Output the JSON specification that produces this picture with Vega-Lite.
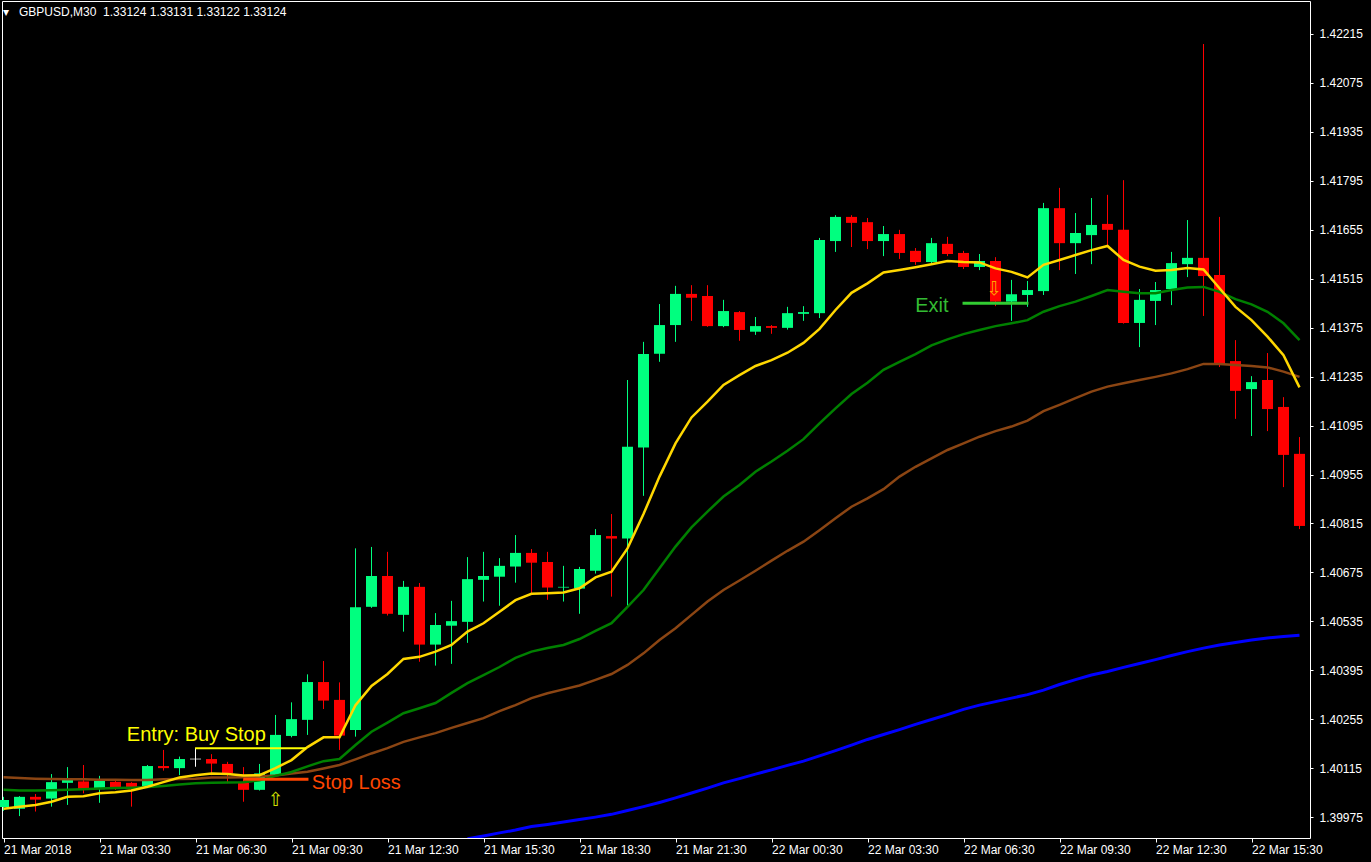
{
  "$schema": "https://vega.github.io/schema/vega-lite/v6.json",
  "autosize": "none",
  "width": 1308,
  "height": 837,
  "padding": {"left": 2, "top": 1, "right": 61, "bottom": 24},
  "background": "#000000",
  "title": {
    "text": "▾\u00a0\u00a0\u00a0GBPUSD,M30\u00a0\u00a01.33124 1.33131 1.33122 1.33124",
    "anchor": "start",
    "orient": "top",
    "offset": -18,
    "dx": 5,
    "font": "Liberation Sans",
    "fontSize": 12,
    "fontWeight": "normal",
    "color": "#FFFFFF"
  },
  "config": {
    "view": {"stroke": "#FFFFFF", "strokeWidth": 1, "fill": "#000000"},
    "axis": {
      "grid": false,
      "domain": false,
      "tickColor": "#FFFFFF",
      "tickWidth": 1,
      "labelColor": "#FFFFFF",
      "labelFont": "Liberation Sans",
      "labelFontSize": 12,
      "title": null
    }
  },
  "datasets": {
    "bars": [
      {"i":0,"open":1.40005,"high":1.40034,"low":1.39994,"close":1.40025,"fast":1.40000,"mid":1.40054,"slow":1.40090},
      {"i":1,"open":1.40000,"high":1.40036,"low":1.39979,"close":1.40034,"fast":1.40006,"mid":1.40052,"slow":1.40088},
      {"i":2,"open":1.40034,"high":1.40042,"low":1.39992,"close":1.40026,"fast":1.40011,"mid":1.40052,"slow":1.40086},
      {"i":3,"open":1.40029,"high":1.40099,"low":1.40006,"close":1.40076,"fast":1.40020,"mid":1.40053,"slow":1.40085},
      {"i":4,"open":1.40074,"high":1.40119,"low":1.40011,"close":1.40084,"fast":1.40034,"mid":1.40054,"slow":1.40084},
      {"i":5,"open":1.40078,"high":1.40125,"low":1.40044,"close":1.40056,"fast":1.40036,"mid":1.40056,"slow":1.40084},
      {"i":6,"open":1.40056,"high":1.40094,"low":1.40017,"close":1.40080,"fast":1.40044,"mid":1.40058,"slow":1.40083},
      {"i":7,"open":1.40077,"high":1.40082,"low":1.40054,"close":1.40058,"fast":1.40047,"mid":1.40059,"slow":1.40083},
      {"i":8,"open":1.40074,"high":1.40076,"low":1.40006,"close":1.40062,"fast":1.40052,"mid":1.40060,"slow":1.40082},
      {"i":9,"open":1.40063,"high":1.40125,"low":1.40059,"close":1.40122,"fast":1.40063,"mid":1.40062,"slow":1.40082},
      {"i":10,"open":1.40122,"high":1.40168,"low":1.40109,"close":1.40116,"fast":1.40076,"mid":1.40065,"slow":1.40084},
      {"i":11,"open":1.40116,"high":1.40149,"low":1.40096,"close":1.40142,"fast":1.40089,"mid":1.40069,"slow":1.40085},
      {"i":12,"open":1.40142,"high":1.40174,"low":1.40120,"close":1.40142,"fast":1.40096,"mid":1.40073,"slow":1.40086},
      {"i":13,"open":1.40142,"high":1.40156,"low":1.40096,"close":1.40129,"fast":1.40101,"mid":1.40074,"slow":1.40089},
      {"i":14,"open":1.40128,"high":1.40134,"low":1.40073,"close":1.40101,"fast":1.40099,"mid":1.40075,"slow":1.40089},
      {"i":15,"open":1.40074,"high":1.40119,"low":1.40020,"close":1.40054,"fast":1.40095,"mid":1.40076,"slow":1.40090},
      {"i":16,"open":1.40054,"high":1.40128,"low":1.40052,"close":1.40101,"fast":1.40096,"mid":1.40081,"slow":1.40092},
      {"i":17,"open":1.40096,"high":1.40268,"low":1.40094,"close":1.40211,"fast":1.40116,"mid":1.40094,"slow":1.40095},
      {"i":18,"open":1.40208,"high":1.40304,"low":1.40204,"close":1.40256,"fast":1.40139,"mid":1.40105,"slow":1.40101},
      {"i":19,"open":1.40254,"high":1.40384,"low":1.40211,"close":1.40362,"fast":1.40176,"mid":1.40121,"slow":1.40106},
      {"i":20,"open":1.40362,"high":1.40422,"low":1.40285,"close":1.40309,"fast":1.40204,"mid":1.40136,"slow":1.40115},
      {"i":21,"open":1.40311,"high":1.40361,"low":1.40168,"close":1.40209,"fast":1.40204,"mid":1.40142,"slow":1.40125},
      {"i":22,"open":1.40225,"high":1.40744,"low":1.40206,"close":1.40576,"fast":1.40296,"mid":1.40182,"slow":1.40141},
      {"i":23,"open":1.40577,"high":1.40748,"low":1.40574,"close":1.40665,"fast":1.40351,"mid":1.40220,"slow":1.40158},
      {"i":24,"open":1.40665,"high":1.40734,"low":1.40552,"close":1.40557,"fast":1.40385,"mid":1.40246,"slow":1.40173},
      {"i":25,"open":1.40554,"high":1.40651,"low":1.40506,"close":1.40634,"fast":1.40428,"mid":1.40273,"slow":1.40191},
      {"i":26,"open":1.40634,"high":1.40645,"low":1.40420,"close":1.40469,"fast":1.40434,"mid":1.40287,"slow":1.40204},
      {"i":27,"open":1.40469,"high":1.40559,"low":1.40409,"close":1.40525,"fast":1.40449,"mid":1.40302,"slow":1.40216},
      {"i":28,"open":1.40523,"high":1.40594,"low":1.40414,"close":1.40536,"fast":1.40468,"mid":1.40331,"slow":1.40231},
      {"i":29,"open":1.40534,"high":1.40719,"low":1.40474,"close":1.40656,"fast":1.40506,"mid":1.40359,"slow":1.40245,"long":1.39914},
      {"i":30,"open":1.40654,"high":1.40734,"low":1.40592,"close":1.40665,"fast":1.40530,"mid":1.40382,"slow":1.40259,"long":1.39922},
      {"i":31,"open":1.40663,"high":1.40716,"low":1.40580,"close":1.40694,"fast":1.40563,"mid":1.40405,"slow":1.40279,"long":1.39931},
      {"i":32,"open":1.40692,"high":1.40782,"low":1.40646,"close":1.40731,"fast":1.40596,"mid":1.40431,"slow":1.40296,"long":1.39939},
      {"i":33,"open":1.40731,"high":1.40742,"low":1.40614,"close":1.40703,"fast":1.40614,"mid":1.40449,"slow":1.40316,"long":1.39949},
      {"i":34,"open":1.40705,"high":1.40734,"low":1.40597,"close":1.40632,"fast":1.40616,"mid":1.40459,"slow":1.40330,"long":1.39955},
      {"i":35,"open":1.40632,"high":1.40694,"low":1.40592,"close":1.40634,"fast":1.40618,"mid":1.40468,"slow":1.40341,"long":1.39962},
      {"i":36,"open":1.40629,"high":1.40691,"low":1.40557,"close":1.40685,"fast":1.40630,"mid":1.40485,"slow":1.40352,"long":1.39969},
      {"i":37,"open":1.40680,"high":1.40799,"low":1.40672,"close":1.40782,"fast":1.40661,"mid":1.40508,"slow":1.40368,"long":1.39976},
      {"i":38,"open":1.40779,"high":1.40842,"low":1.40606,"close":1.40772,"fast":1.40677,"mid":1.40530,"slow":1.40385,"long":1.39984},
      {"i":39,"open":1.40772,"high":1.41225,"low":1.40577,"close":1.41034,"fast":1.40744,"mid":1.40577,"slow":1.40411,"long":1.39995},
      {"i":40,"open":1.41032,"high":1.41334,"low":1.40894,"close":1.41299,"fast":1.40842,"mid":1.40625,"slow":1.40444,"long":1.40006},
      {"i":41,"open":1.41300,"high":1.41442,"low":1.41277,"close":1.41382,"fast":1.40949,"mid":1.40687,"slow":1.40482,"long":1.40018},
      {"i":42,"open":1.41382,"high":1.41494,"low":1.41334,"close":1.41471,"fast":1.41044,"mid":1.40749,"slow":1.40516,"long":1.40031},
      {"i":43,"open":1.41471,"high":1.41496,"low":1.41394,"close":1.41460,"fast":1.41118,"mid":1.40804,"slow":1.40554,"long":1.40045},
      {"i":44,"open":1.41465,"high":1.41496,"low":1.41377,"close":1.41379,"fast":1.41163,"mid":1.40849,"slow":1.40592,"long":1.40059},
      {"i":45,"open":1.41379,"high":1.41454,"low":1.41376,"close":1.41422,"fast":1.41211,"mid":1.40892,"slow":1.40625,"long":1.40074},
      {"i":46,"open":1.41419,"high":1.41422,"low":1.41337,"close":1.41368,"fast":1.41239,"mid":1.40925,"slow":1.40652,"long":1.40086},
      {"i":47,"open":1.41363,"high":1.41405,"low":1.41354,"close":1.41379,"fast":1.41265,"mid":1.40963,"slow":1.40680,"long":1.40099},
      {"i":48,"open":1.41379,"high":1.41382,"low":1.41357,"close":1.41374,"fast":1.41282,"mid":1.40992,"slow":1.40709,"long":1.40111},
      {"i":49,"open":1.41374,"high":1.41434,"low":1.41369,"close":1.41416,"fast":1.41303,"mid":1.41023,"slow":1.40737,"long":1.40124},
      {"i":50,"open":1.41414,"high":1.41436,"low":1.41394,"close":1.41419,"fast":1.41331,"mid":1.41056,"slow":1.40763,"long":1.40136},
      {"i":51,"open":1.41416,"high":1.41631,"low":1.41402,"close":1.41625,"fast":1.41371,"mid":1.41101,"slow":1.40796,"long":1.40151},
      {"i":52,"open":1.41622,"high":1.41696,"low":1.41591,"close":1.41691,"fast":1.41425,"mid":1.41144,"slow":1.40830,"long":1.40166},
      {"i":53,"open":1.41691,"high":1.41696,"low":1.41605,"close":1.41674,"fast":1.41474,"mid":1.41185,"slow":1.40863,"long":1.40182},
      {"i":54,"open":1.41676,"high":1.41688,"low":1.41599,"close":1.41622,"fast":1.41501,"mid":1.41217,"slow":1.40887,"long":1.40198},
      {"i":55,"open":1.41622,"high":1.41665,"low":1.41579,"close":1.41642,"fast":1.41532,"mid":1.41254,"slow":1.40913,"long":1.40212},
      {"i":56,"open":1.41642,"high":1.41654,"low":1.41571,"close":1.41588,"fast":1.41539,"mid":1.41277,"slow":1.40949,"long":1.40226},
      {"i":57,"open":1.41594,"high":1.41602,"low":1.41554,"close":1.41562,"fast":1.41547,"mid":1.41299,"slow":1.40977,"long":1.40241},
      {"i":58,"open":1.41562,"high":1.41631,"low":1.41554,"close":1.41616,"fast":1.41556,"mid":1.41324,"slow":1.41001,"long":1.40255},
      {"i":59,"open":1.41614,"high":1.41634,"low":1.41579,"close":1.41585,"fast":1.41565,"mid":1.41341,"slow":1.41025,"long":1.40269},
      {"i":60,"open":1.41588,"high":1.41594,"low":1.41542,"close":1.41548,"fast":1.41562,"mid":1.41356,"slow":1.41044,"long":1.40284},
      {"i":61,"open":1.41548,"high":1.41585,"low":1.41539,"close":1.41565,"fast":1.41561,"mid":1.41368,"slow":1.41063,"long":1.40296},
      {"i":62,"open":1.41565,"high":1.41576,"low":1.41436,"close":1.41449,"fast":1.41544,"mid":1.41379,"slow":1.41079,"long":1.40306},
      {"i":63,"open":1.41449,"high":1.41511,"low":1.41394,"close":1.41470,"fast":1.41534,"mid":1.41387,"slow":1.41092,"long":1.40316},
      {"i":64,"open":1.41468,"high":1.41508,"low":1.41434,"close":1.41482,"fast":1.41518,"mid":1.41396,"slow":1.41109,"long":1.40326},
      {"i":65,"open":1.41479,"high":1.41731,"low":1.41468,"close":1.41716,"fast":1.41554,"mid":1.41420,"slow":1.41136,"long":1.40339},
      {"i":66,"open":1.41716,"high":1.41774,"low":1.41539,"close":1.41616,"fast":1.41568,"mid":1.41436,"slow":1.41154,"long":1.40355},
      {"i":67,"open":1.41616,"high":1.41702,"low":1.41528,"close":1.41645,"fast":1.41582,"mid":1.41449,"slow":1.41173,"long":1.40369},
      {"i":68,"open":1.41639,"high":1.41745,"low":1.41556,"close":1.41668,"fast":1.41596,"mid":1.41465,"slow":1.41192,"long":1.40382},
      {"i":69,"open":1.41671,"high":1.41754,"low":1.41611,"close":1.41654,"fast":1.41608,"mid":1.41482,"slow":1.41206,"long":1.40392},
      {"i":70,"open":1.41654,"high":1.41796,"low":1.41386,"close":1.41388,"fast":1.41568,"mid":1.41477,"slow":1.41216,"long":1.40404},
      {"i":71,"open":1.41388,"high":1.41485,"low":1.41319,"close":1.41454,"fast":1.41549,"mid":1.41473,"slow":1.41225,"long":1.40415},
      {"i":72,"open":1.41451,"high":1.41505,"low":1.41382,"close":1.41482,"fast":1.41537,"mid":1.41473,"slow":1.41234,"long":1.40426},
      {"i":73,"open":1.41485,"high":1.41591,"low":1.41439,"close":1.41559,"fast":1.41539,"mid":1.41482,"slow":1.41244,"long":1.40438},
      {"i":74,"open":1.41556,"high":1.41682,"low":1.41519,"close":1.41574,"fast":1.41545,"mid":1.41489,"slow":1.41256,"long":1.40449},
      {"i":75,"open":1.41574,"high":1.42185,"low":1.41408,"close":1.41522,"fast":1.41541,"mid":1.41491,"slow":1.41271,"long":1.40459},
      {"i":76,"open":1.41525,"high":1.41691,"low":1.41262,"close":1.41271,"fast":1.41487,"mid":1.41477,"slow":1.41271,"long":1.40468},
      {"i":77,"open":1.41279,"high":1.41339,"low":1.41114,"close":1.41194,"fast":1.41434,"mid":1.41456,"slow":1.41268,"long":1.40475},
      {"i":78,"open":1.41199,"high":1.41236,"low":1.41065,"close":1.41219,"fast":1.41396,"mid":1.41441,"slow":1.41265,"long":1.40482},
      {"i":79,"open":1.41225,"high":1.41302,"low":1.41079,"close":1.41142,"fast":1.41349,"mid":1.41420,"slow":1.41261,"long":1.40488},
      {"i":80,"open":1.41148,"high":1.41176,"low":1.40919,"close":1.41011,"fast":1.41296,"mid":1.41387,"slow":1.41249,"long":1.40492},
      {"i":81,"open":1.41014,"high":1.41062,"low":1.40799,"close":1.40808,"fast":1.41204,"mid":1.41339,"slow":1.41234,"long":1.40496}
    ]
  },
  "encoding": {
    "x": {
      "field": "i",
      "type": "quantitative",
      "title": null,
      "scale": {"domain": [-0.09375, 81.65625], "nice": false, "zero": false, "padding": 0},
      "axis": {
        "orient": "bottom",
        "values": [0, 6, 12, 18, 24, 30, 36, 42, 48, 54, 60, 66, 72, 78],
        "labelExpr": "['21 Mar 2018','21 Mar 03:30','21 Mar 06:30','21 Mar 09:30','21 Mar 12:30','21 Mar 15:30','21 Mar 18:30','21 Mar 21:30','22 Mar 00:30','22 Mar 03:30','22 Mar 06:30','22 Mar 09:30','22 Mar 12:30','22 Mar 15:30'][round(datum.value / 6)]",
        "labelAlign": "left",
        "labelBaseline": "top",
        "labelDx": 0,
        "tickSize": 4,
        "labelPadding": 2,
        "labelOverlap": false,
        "labelBound": false,
        "labelFlush": false
      }
    }
  },
  "layer": [
    {
      "data": {"name": "bars"},
      "mark": {"type": "rule", "strokeWidth": 1},
      "encoding": {
        "y": {
          "field": "low",
          "type": "quantitative",
          "title": null,
          "scale": {"domain": [1.399164, 1.423079], "nice": false, "zero": false},
          "axis": {
            "orient": "right",
            "values": [1.39975, 1.40115, 1.40255, 1.40395, 1.40535, 1.40675, 1.40815, 1.40955, 1.41095, 1.41235, 1.41375, 1.41515, 1.41655, 1.41795, 1.41935, 1.42075, 1.42215],
            "format": ".5f",
            "tickSize": 3,
            "labelPadding": 6,
            "labelBaseline": "middle",
            "labelOverlap": false,
            "labelFlush": false,
            "labelBound": false
          }
        },
        "y2": {"field": "high"},
        "color": {
          "condition": [
            {"test": "datum.close > datum.open", "value": "#00FF7F"},
            {"test": "datum.close < datum.open", "value": "#FF0000"}
          ],
          "value": "#FFFFFF"
        }
      }
    },
    {
      "data": {"name": "bars"},
      "mark": {"type": "bar", "size": 11},
      "encoding": {
        "y": {"field": "open", "type": "quantitative", "title": null, "scale": {"domain": [1.399164, 1.423079], "nice": false, "zero": false}},
        "y2": {"field": "close"},
        "color": {
          "condition": [
            {"test": "datum.close > datum.open", "value": "#00FF7F"},
            {"test": "datum.close < datum.open", "value": "#FF0000"}
          ],
          "value": "#FFFFFF"
        }
      }
    },
    {
      "data": {"name": "bars"},
      "transform": [{"filter": "datum.open == datum.close"}],
      "mark": {"type": "tick", "orient": "horizontal", "size": 11, "thickness": 1, "color": "#FFFFFF"},
      "encoding": {
        "y": {"field": "open", "type": "quantitative", "title": null, "scale": {"domain": [1.399164, 1.423079], "nice": false, "zero": false}}
      }
    },
    {
      "data": {"name": "bars"},
      "mark": {"type": "line", "color": "#0000FF", "strokeWidth": 3, "clip": true},
      "encoding": {
        "y": {"field": "long", "type": "quantitative", "title": null, "scale": {"domain": [1.399164, 1.423079], "nice": false, "zero": false}}
      }
    },
    {
      "data": {"name": "bars"},
      "mark": {"type": "line", "color": "#8B4513", "strokeWidth": 2.5, "clip": true},
      "encoding": {
        "y": {"field": "slow", "type": "quantitative", "title": null, "scale": {"domain": [1.399164, 1.423079], "nice": false, "zero": false}}
      }
    },
    {
      "data": {"name": "bars"},
      "mark": {"type": "line", "color": "#008000", "strokeWidth": 2.5, "clip": true},
      "encoding": {
        "y": {"field": "mid", "type": "quantitative", "title": null, "scale": {"domain": [1.399164, 1.423079], "nice": false, "zero": false}}
      }
    },
    {
      "data": {"name": "bars"},
      "mark": {"type": "line", "color": "#FFD700", "strokeWidth": 2.5, "clip": true},
      "encoding": {
        "y": {"field": "fast", "type": "quantitative", "title": null, "scale": {"domain": [1.399164, 1.423079], "nice": false, "zero": false}}
      }
    },
    {
      "data": {"values": [{"i": 11.98, "i2": 18.92, "price": 1.40173}]},
      "mark": {"type": "rule", "color": "#FFFF00", "strokeWidth": 2},
      "encoding": {
        "x2": {"field": "i2"},
        "y": {"field": "price", "type": "quantitative", "title": null, "scale": {"domain": [1.399164, 1.423079], "nice": false, "zero": false}}
      }
    },
    {
      "data": {"values": [{"i": 15.0, "i2": 19.06, "price": 1.40084}]},
      "mark": {"type": "rule", "color": "#FF4500", "strokeWidth": 3},
      "encoding": {
        "x2": {"field": "i2"},
        "y": {"field": "price", "type": "quantitative", "title": null, "scale": {"domain": [1.399164, 1.423079], "nice": false, "zero": false}}
      }
    },
    {
      "data": {"values": [{"i": 59.94, "i2": 64.06, "price": 1.41444}]},
      "mark": {"type": "rule", "color": "#32CD32", "strokeWidth": 3},
      "encoding": {
        "x2": {"field": "i2"},
        "y": {"field": "price", "type": "quantitative", "title": null, "scale": {"domain": [1.399164, 1.423079], "nice": false, "zero": false}}
      }
    },
    {
      "data": {"values": [{"i": 7.71, "price": 1.40194, "label": "Entry: Buy Stop"}]},
      "mark": {"type": "text", "color": "#FFFF00", "font": "Liberation Sans", "fontSize": 20, "align": "left", "baseline": "alphabetic"},
      "encoding": {
        "y": {"field": "price", "type": "quantitative", "title": null, "scale": {"domain": [1.399164, 1.423079], "nice": false, "zero": false}},
        "text": {"field": "label"}
      }
    },
    {
      "data": {"values": [{"i": 19.27, "price": 1.40056, "label": "Stop Loss"}]},
      "mark": {"type": "text", "color": "#FF4500", "font": "Liberation Sans", "fontSize": 20, "align": "left", "baseline": "alphabetic"},
      "encoding": {
        "y": {"field": "price", "type": "quantitative", "title": null, "scale": {"domain": [1.399164, 1.423079], "nice": false, "zero": false}},
        "text": {"field": "label"}
      }
    },
    {
      "data": {"values": [{"i": 56.98, "price": 1.41418, "label": "Exit"}]},
      "mark": {"type": "text", "color": "#33BB33", "font": "Liberation Sans", "fontSize": 20, "align": "left", "baseline": "alphabetic"},
      "encoding": {
        "y": {"field": "price", "type": "quantitative", "title": null, "scale": {"domain": [1.399164, 1.423079], "nice": false, "zero": false}},
        "text": {"field": "label"}
      }
    },
    {
      "data": {"values": [{"i": 17.0, "price": 1.40025, "label": "⇧"}]},
      "mark": {"type": "text", "color": "#D4E000", "font": "DejaVu Sans", "fontSize": 19, "align": "center", "baseline": "middle"},
      "encoding": {
        "y": {"field": "price", "type": "quantitative", "title": null, "scale": {"domain": [1.399164, 1.423079], "nice": false, "zero": false}},
        "text": {"field": "label"}
      }
    },
    {
      "data": {"values": [{"i": 61.9, "price": 1.41485, "label": "⇩"}]},
      "mark": {"type": "text", "color": "#FFA500", "font": "DejaVu Sans", "fontSize": 19, "align": "center", "baseline": "middle"},
      "encoding": {
        "y": {"field": "price", "type": "quantitative", "title": null, "scale": {"domain": [1.399164, 1.423079], "nice": false, "zero": false}},
        "text": {"field": "label"}
      }
    }
  ]
}
